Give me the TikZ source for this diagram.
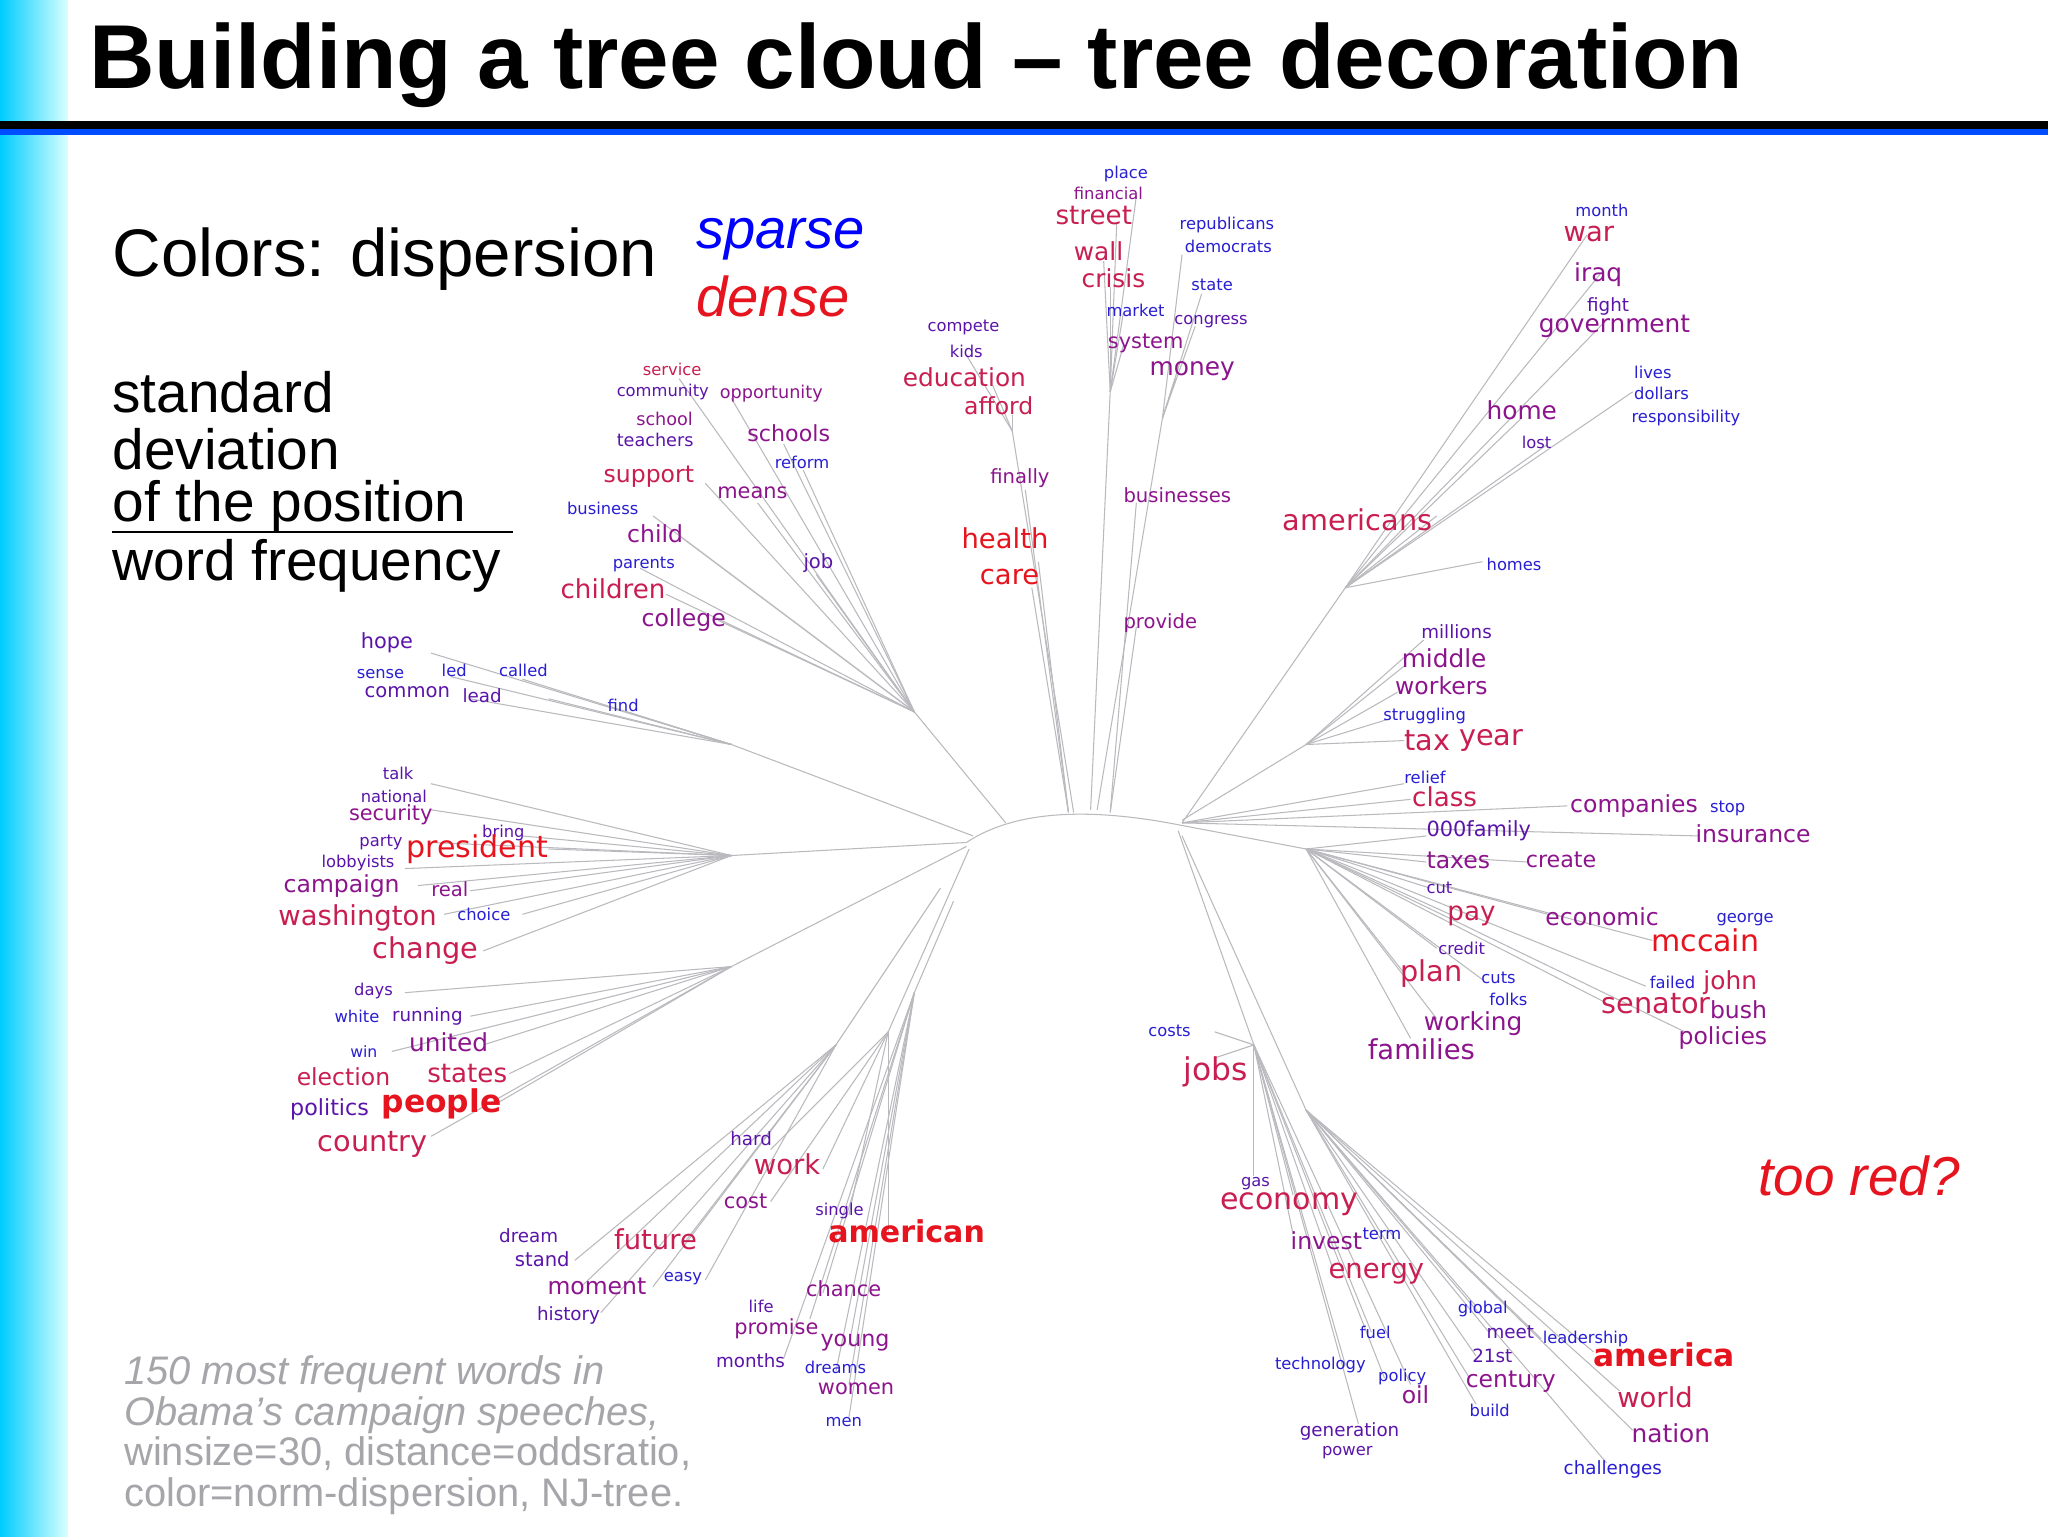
\documentclass[tikz,border=0pt]{standalone}
\usepackage{fontspec}
\setmainfont{Liberation Sans}
\newfontfamily\wf{DejaVu Sans}
\definecolor{ca}{RGB}{40,30,210}
\definecolor{cb}{RGB}{90,20,170}
\definecolor{cc}{RGB}{140,20,140}
\definecolor{cd}{RGB}{200,30,80}
\definecolor{ce}{RGB}{230,20,30}
\definecolor{tl}{RGB}{185,185,190}
\definecolor{gt}{RGB}{165,165,170}
\tikzset{br/.style={draw=tl,line width=0.8pt}}
\newcommand{\wrd}[5]{\node[anchor=west,inner sep=0pt,text=#3,font=\wf\fontsize{#4}{#4}\selectfont] at (#1,#2) {#5};}
\newcommand{\wrdb}[5]{\node[anchor=west,inner sep=0pt,text=#3,font=\wf\bfseries\fontsize{#4}{#4}\selectfont] at (#1,#2) {#5};}
\newcommand{\fan}[2]{\foreach \p in {#2} {\draw[br] #1 -- \p;}}
\begin{document}
\begin{tikzpicture}[x=1pt,y=-1pt]
\useasboundingbox (0,0) rectangle (1568,1176);
\fill[white] (0,0) rectangle (1568,1176);
\shade[left color=cyan!80!blue,right color=cyan!15] (0,0) rectangle (52,1176);
\fill[black] (0,93) rectangle (1568,99);
\fill[blue!70!cyan] (0,99) rectangle (1568,103);
\node[anchor=west,inner sep=0pt,font=\bfseries\fontsize{69.5}{70}\selectfont] (title) at (68,50) {Building a tree cloud -- tree decoration};
% left texts
\node[anchor=west,inner sep=0pt,font=\fontsize{51.5}{52}\selectfont] (colors) at (86,198) {Colors: dispersion};
\node[anchor=west,inner sep=0pt,text=blue,font=\itshape\fontsize{43}{43}\selectfont] (sp) at (533,183) {sparse};
\node[anchor=west,inner sep=0pt,text=ce,font=\itshape\fontsize{43}{43}\selectfont] (de) at (533,227) {dense};
\node[anchor=west,inner sep=0pt,font=\fontsize{43.5}{44}\selectfont] (s1) at (86,300) {standard};
\node[anchor=west,inner sep=0pt,font=\fontsize{43.5}{44}\selectfont] (s2) at (86,344) {deviation};
\node[anchor=west,inner sep=0pt,font=\fontsize{43.5}{44}\selectfont] (s3) at (86,388) {of the position};
\draw[line width=1.5pt] (86,407) -- (393,407);
\node[anchor=west,inner sep=0pt,font=\fontsize{43.5}{44}\selectfont] (s4) at (86,433) {word frequency};
\node[anchor=west,inner sep=0pt,text=ce,font=\itshape\fontsize{42}{42}\selectfont] (tr) at (1346,900) {too red?};
\node[anchor=north west,inner sep=0pt,text=gt,font=\fontsize{30.5}{31}\selectfont,align=left] (cap) at (95,1038) {\itshape 150 most frequent words in\\ \itshape Obama's campaign speeches,\\ winsize=30, distance=oddsratio,\\ color=norm-dispersion, NJ-tree.};
% tree
\draw[br] (740,645) .. controls (770,625) and (820,615) .. (905,632);
\draw[br] (835,620) -- (850,300); \fan{(850,300)}{(855,170),(845,200),(850,220),(860,240),(860,265),(870,150)}
\draw[br] (840,620) -- (890,320); \fan{(890,320)}{(900,290),(915,250),(920,225),(905,195)}
\draw[br] (822,622) -- (775,330); \fan{(775,330)}{(775,318),(760,295),(740,272)}
\fan{(818,622)}{(790,450),(795,430),(785,375)}
\fan{(850,622)}{(870,385),(870,480)}
\draw[br] (770,630) -- (700,545); \fan{(700,545)}{(560,305),(600,340),(615,360),(540,370),(580,385),(520,410),(625,440),(510,455),(550,475),(490,435),(500,395),(520,290)}
\draw[br] (745,640) -- (560,570); \fan{(560,570)}{(330,500),(345,518),(400,520),(420,535),(480,545),(360,535)}
\draw[br] (740,645) -- (560,655); \fan{(560,655)}{(330,600),(330,620),(330,645),(420,650),(400,640),(310,665),(360,682),(340,700),(400,700),(370,728),(320,678)}
\draw[br] (740,648) -- (560,740); \fan{(560,740)}{(310,760),(360,778),(370,800),(390,822),(380,845),(330,870),(300,805)}
\draw[br] (742,650) -- (680,790); \fan{(680,790)}{(590,880),(630,895),(590,920),(650,930),(680,945)}
\draw[br] (720,680) -- (640,800); \fan{(640,800)}{(525,950),(445,985),(440,965),(500,985),(540,980),(460,1005)}
\draw[br] (730,690) -- (700,760); \fan{(700,760)}{(630,990),(620,1010),(650,1030),(600,1040),(640,1050),(650,1060),(650,1085)}
\draw[br] (905,630) -- (1030,450); \fan{(1030,450)}{(1100,395),(1215,180),(1225,210),(1230,245),(1165,320),(1185,340),(1250,300),(1135,430)}
\draw[br] (905,628) -- (1000,570); \fan{(1000,570)}{(1090,490),(1075,510),(1070,530),(1065,550),(1075,567)}
\fan{(905,630)}{(1075,600),(1080,612),(1200,617),(1300,640)}
\draw[br] (905,632) -- (1000,650); \fan{(1000,650)}{(1092,640),(1092,660),(1170,660),(1095,680),(1110,700),(1185,700),(1265,720),(1100,726),(1075,745),(1135,750),(1260,755),(1230,768),(1100,780),(1080,795),(1290,790)}
\draw[br] (902,636) -- (960,800); \fan{(960,800)}{(930,790),(930,810),(960,900),(990,915),(990,945),(1020,970),(1050,1020),(1030,1045),(1060,1055),(1080,1060),(1040,1090)}
\draw[br] (905,640) -- (1000,850); \fan{(1000,850)}{(1130,1000),(1140,1020),(1180,1025),(1130,1038),(1220,1035),(1125,1055),(1240,1065),(1130,1075),(1250,1095),(1230,1120)}
% words
\wrd{845}{133}{ca}{12.5}{place}\wrd{822}{148}{cc}{12.5}{financial}\wrd{808}{165}{cd}{20}{street}
\wrd{903}{172}{ca}{12.5}{republicans}\wrd{907}{189}{ca}{12.5}{democrats}\wrd{822}{192}{cd}{19}{wall}
\wrd{828}{213}{cd}{19}{crisis}\wrd{912}{218}{ca}{12.5}{state}\wrd{847}{238}{ca}{12.5}{market}
\wrd{899}{246}{cb}{12.5}{congress}\wrd{848}{263}{cc}{16}{system}\wrd{880}{284}{cc}{19}{money}
\wrd{710}{251}{cb}{12.5}{compete}\wrd{727}{269}{cb}{12.5}{kids}\wrd{691}{289}{cd}{19}{education}
\wrd{738}{311}{cd}{18}{afford}\wrd{758}{366}{cc}{15}{finally}\wrd{860}{379}{cc}{15}{businesses}
\wrd{736}{412}{ce}{21}{health}\wrd{750}{442}{ce}{21}{care}\wrd{860}{477}{cc}{15}{provide}
\wrd{492}{283}{cd}{12.5}{service}\wrd{472}{300}{cb}{12.5}{community}\wrd{551}{301}{cc}{13.5}{opportunity}
\wrd{487}{321}{cc}{13.5}{school}\wrd{472}{337}{cb}{13.5}{teachers}\wrd{572}{332}{cc}{17}{schools}
\wrd{593}{354}{ca}{12.5}{reform}\wrd{462}{365}{cd}{18}{support}\wrd{549}{377}{cc}{16}{means}
\wrd{434}{389}{ca}{12.5}{business}\wrd{480}{409}{cc}{18}{child}\wrd{469}{432}{ca}{12.5}{parents}
\wrd{615}{431}{cb}{15}{job}\wrd{429}{451}{cd}{20}{children}\wrd{491}{475}{cc}{18}{college}
\wrd{276}{492}{cb}{16}{hope}\wrd{273}{516}{ca}{12.5}{sense}\wrd{338}{513}{ca}{12.5}{led}
\wrd{382}{513}{ca}{12.5}{called}\wrd{279}{530}{cb}{15}{common}\wrd{354}{533}{cb}{14}{lead}
\wrd{465}{540}{ca}{12.5}{find}
\wrd{293}{592}{cb}{12.5}{talk}\wrd{276}{610}{cb}{12.5}{national}\wrd{267}{624}{cc}{16}{security}
\wrd{275}{645}{cb}{12.5}{party}\wrd{369}{638}{cb}{12.5}{bring}\wrd{246}{661}{cb}{12.5}{lobbyists}
\wrd{311}{650}{ce}{23}{president}\wrd{217}{678}{cc}{18}{campaign}\wrd{330}{681}{cc}{15}{real}
\wrd{213}{703}{cd}{21}{washington}\wrd{350}{700}{ca}{12.5}{choice}\wrd{285}{728}{cd}{22}{change}
\wrd{271}{759}{cb}{12.5}{days}\wrd{256}{778}{ca}{12.5}{white}\wrd{300}{778}{cb}{14}{running}
\wrd{268}{805}{ca}{12}{win}\wrd{313}{798}{cc}{19}{united}\wrd{227}{824}{cd}{18}{election}
\wrd{327}{822}{cd}{20}{states}\wrd{222}{849}{cb}{17}{politics}\wrdb{292}{845}{ce}{24}{people}
\wrd{243}{876}{cd}{22}{country}
\wrd{559}{872}{cb}{14}{hard}\wrd{577}{891}{cd}{21}{work}\wrd{554}{920}{cc}{16}{cost}
\wrd{624}{927}{cb}{12.5}{single}\wrdb{634}{943}{ce}{23}{american}\wrd{382}{946}{cb}{14}{dream}
\wrd{470}{949}{cd}{21}{future}\wrd{394}{964}{cb}{15}{stand}\wrd{419}{985}{cc}{18}{moment}
\wrd{508}{979}{ca}{12.5}{easy}\wrd{411}{1007}{cb}{14}{history}\wrd{617}{987}{cc}{16}{chance}
\wrd{573}{1000}{cb}{12.5}{life}\wrd{562}{1017}{cc}{16}{promise}\wrd{628}{1028}{cc}{17}{young}
\wrd{548}{1042}{cb}{14}{months}\wrd{616}{1047}{ca}{12.5}{dreams}\wrd{626}{1063}{cc}{16}{women}
\wrd{632}{1089}{ca}{12.5}{men}
\wrd{1206}{161}{ca}{12.5}{month}\wrd{1197}{179}{cd}{21}{war}\wrd{1205}{210}{cc}{19}{iraq}
\wrd{1215}{235}{cb}{14}{fight}\wrd{1178}{250}{cc}{19}{government}\wrd{1251}{285}{ca}{12.5}{lives}
\wrd{1251}{301}{ca}{12.5}{dollars}\wrd{1249}{320}{ca}{12.5}{responsibility}\wrd{1138}{314}{cc}{19}{home}
\wrd{1165}{339}{cb}{12.5}{lost}\wrd{982}{398}{cd}{22}{americans}\wrd{1138}{432}{ca}{12.5}{homes}
\wrd{1088}{484}{cb}{14}{millions}\wrd{1073}{504}{cc}{19}{middle}\wrd{1068}{525}{cc}{18}{workers}
\wrd{1059}{548}{ca}{12.5}{struggling}\wrd{1075}{567}{cd}{22}{tax}\wrd{1117}{567}{cd}{22}{year}
\wrd{1075}{595}{ca}{12.5}{relief}\wrd{1081}{610}{cd}{20}{class}\wrd{1202}{617}{cc}{18}{companies}
\wrd{1309}{619}{ca}{12.5}{stop}\wrd{1092}{636}{cb}{16}{000family}\wrd{1298}{638}{cc}{18}{insurance}
\wrd{1092}{659}{cc}{18}{taxes}\wrd{1168}{658}{cc}{17}{create}\wrd{1092}{680}{cb}{12.5}{cut}
\wrd{1108}{701}{cd}{20}{pay}\wrd{1183}{702}{cc}{18}{economic}\wrd{1314}{704}{ca}{12.5}{george}
\wrd{1264}{720}{ce}{23}{mccain}\wrd{1101}{726}{cb}{12.5}{credit}\wrd{1072}{745}{cd}{22}{plan}
\wrd{1134}{749}{ca}{12.5}{cuts}\wrd{1140}{765}{ca}{12.5}{folks}\wrd{1263}{752}{ca}{12.5}{failed}
\wrd{1304}{752}{cd}{19}{john}\wrd{1226}{768}{cd}{22}{senator}\wrd{1309}{773}{cc}{18}{bush}
\wrd{1090}{784}{cc}{19}{working}\wrd{1047}{803}{cc}{21}{families}\wrd{1285}{795}{cc}{18}{policies}
\wrd{879}{789}{ca}{12.5}{costs}\wrd{906}{821}{cd}{24}{jobs}\wrd{950}{906}{cb}{12.5}{gas}
\wrd{934}{922}{cd}{23}{economy}\wrd{988}{950}{cc}{18}{invest}\wrd{1043}{945}{ca}{12.5}{term}
\wrd{1017}{975}{cd}{21}{energy}\wrd{1116}{1002}{ca}{12.5}{global}\wrd{1041}{1020}{ca}{12.5}{fuel}
\wrd{1138}{1020}{cb}{14}{meet}\wrd{1181}{1025}{ca}{12.5}{leadership}\wrd{1127}{1038}{cb}{14}{21st}
\wrdb{1220}{1037}{ce}{24}{america}\wrd{976}{1045}{ca}{12.5}{technology}\wrd{1055}{1054}{ca}{12.5}{policy}
\wrd{1122}{1058}{cc}{18}{century}\wrd{1073}{1068}{cc}{18}{oil}\wrd{1238}{1070}{cd}{21}{world}
\wrd{1125}{1080}{ca}{12.5}{build}\wrd{1249}{1097}{cc}{19}{nation}\wrd{995}{1096}{cb}{14}{generation}
\wrd{1012}{1112}{cb}{12.5}{power}\wrd{1197}{1125}{ca}{14}{challenges}
\end{tikzpicture}
\end{document}
